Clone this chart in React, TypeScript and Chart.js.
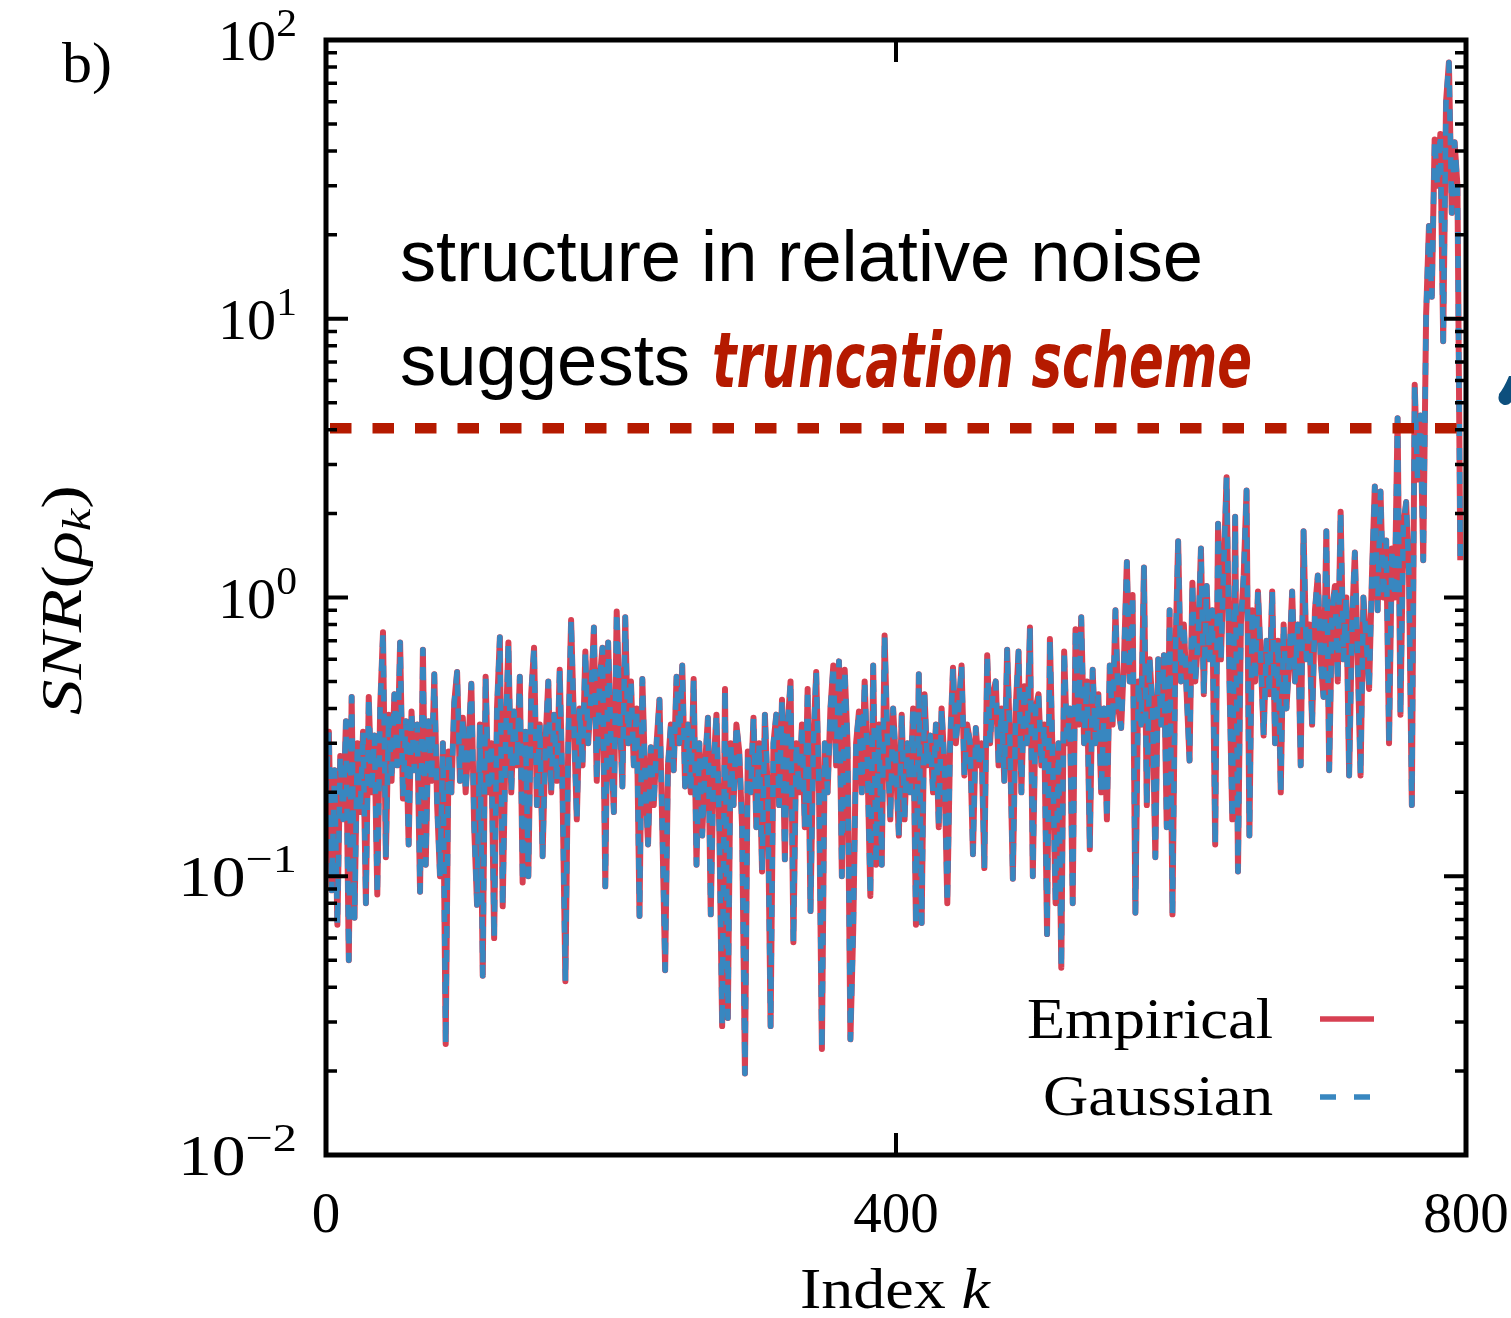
import React, { useEffect, useRef } from "react";
import { Chart, registerables } from "chart.js";

Chart.register(...registerables);

// ---- data ----
const indexStep = 2; // one reading every 2 indices k
const empiricalSnr = [
  0.2, 0.33, 0.089, 0.24, 0.067, 0.27, 0.16, 0.36, 0.05, 0.44,
  0.071, 0.3, 0.17, 0.33, 0.08, 0.44, 0.2, 0.32, 0.086, 0.4,
  0.75, 0.117, 0.38, 0.22, 0.45, 0.25, 0.69, 0.19, 0.36, 0.13,
  0.39, 0.24, 0.35, 0.088, 0.65, 0.11, 0.36, 0.22, 0.53, 0.18,
  0.1, 0.3, 0.025, 0.28, 0.2, 0.42, 0.54, 0.22, 0.37, 0.2,
  0.3, 0.49, 0.15, 0.079, 0.35, 0.044, 0.52, 0.2, 0.3, 0.06,
  0.4, 0.72, 0.078, 0.3, 0.69, 0.2, 0.39, 0.25, 0.52, 0.095,
  0.33, 0.1, 0.45, 0.66, 0.18, 0.35, 0.118, 0.3, 0.5, 0.2,
  0.38, 0.22, 0.55, 0.2, 0.042, 0.3, 0.83, 0.35, 0.16, 0.4,
  0.25, 0.64, 0.3, 0.45, 0.78, 0.22, 0.5, 0.66, 0.092, 0.69,
  0.3, 0.17, 0.89, 0.4, 0.21, 0.85, 0.3, 0.5, 0.25, 0.4,
  0.072, 0.51, 0.22, 0.13, 0.29, 0.18, 0.3, 0.43, 0.15, 0.046,
  0.25, 0.35, 0.24, 0.52, 0.3, 0.57, 0.21, 0.35, 0.2, 0.51,
  0.11, 0.3, 0.14, 0.25, 0.37, 0.073, 0.25, 0.38, 0.15, 0.029,
  0.47, 0.031, 0.3, 0.18, 0.35, 0.28, 0.15, 0.0196, 0.28, 0.2,
  0.37, 0.15, 0.3, 0.104, 0.38, 0.2, 0.029, 0.3, 0.38, 0.18,
  0.43, 0.115, 0.35, 0.5, 0.058, 0.3, 0.2, 0.35, 0.15, 0.47,
  0.075, 0.3, 0.54, 0.2, 0.024, 0.3, 0.2, 0.4, 0.57, 0.25,
  0.59, 0.1, 0.55, 0.3, 0.026, 0.065, 0.3, 0.39, 0.2, 0.5,
  0.25, 0.085, 0.57, 0.11, 0.35, 0.11, 0.73, 0.3, 0.16, 0.4,
  0.25, 0.14, 0.38, 0.16, 0.3, 0.2, 0.4, 0.067, 0.53, 0.068,
  0.45, 0.25, 0.32, 0.2, 0.35, 0.15, 0.4, 0.25, 0.08, 0.3,
  0.56, 0.3, 0.4, 0.57, 0.23, 0.35, 0.3, 0.12, 0.34, 0.25,
  0.3, 0.107, 0.62, 0.3, 0.45, 0.5, 0.25, 0.4, 0.22, 0.65,
  0.3, 0.098, 0.4, 0.64, 0.2, 0.48, 0.3, 0.78, 0.1, 0.4,
  0.45, 0.25, 0.35, 0.062, 0.71, 0.25, 0.08, 0.3, 0.047, 0.64,
  0.3, 0.4, 0.08, 0.77, 0.35, 0.85, 0.3, 0.5, 0.125, 0.55,
  0.3, 0.45, 0.2, 0.4, 0.16, 0.57, 0.35, 0.9, 0.4, 0.34,
  0.6, 1.34, 0.5, 1.02, 0.074, 0.5, 0.35, 1.28, 0.18, 0.6,
  0.4, 0.117, 0.6, 0.35, 0.62, 0.15, 0.9, 0.073, 0.6, 1.59,
  0.5, 0.8, 0.45, 0.26, 1.13, 0.5, 0.7, 1.5, 0.45, 1.1,
  0.6, 0.9, 0.13, 1.84, 0.6, 1.3, 2.7, 0.5, 0.16, 1.95,
  0.104, 0.8, 1.2, 2.42, 0.14, 0.9, 0.5, 1.05, 0.6, 0.32,
  0.7, 0.45, 1.05, 0.3, 0.7, 0.2, 0.8, 0.4, 0.6, 1.05,
  0.5, 0.8, 0.25, 1.73, 0.6, 0.8, 0.35, 0.9, 1.2, 0.6,
  0.44, 1.73, 0.24, 0.9, 1.1, 0.5, 2.03, 0.6, 1.0, 0.23,
  0.8, 1.45, 0.6, 0.23, 1.0, 0.7, 0.47, 1.2, 2.5, 0.9,
  2.4, 1.0, 1.6, 0.3, 1.5, 1.0, 4.4, 0.38, 1.8, 2.2,
  1.2, 0.18, 5.8, 2.65, 4.5, 1.36, 10.3, 21.5, 12, 44,
  30, 46, 8.3, 60, 83, 24, 43, 30, 1.36,
];
// The Gaussian curve lies on top of the empirical one everywhere in the picture.
const gaussianSnr = empiricalSnr.slice();
const thresholdSnr = 4.05;
const thresholdRange = [0, 800];

const xTickValues = [0, 400, 800];
const xTickLabels = ["0", "400", "800"];
const yTickValues = [0.01, 0.1, 1, 10, 100];
const yTickExponents = ["\u22122", "\u22121", "0", "1", "2"];
const seriesNames = ["Empirical", "Gaussian"];

const RED = "#d74052";
const BLUE = "#3887c0";
const DARK_RED = "#b51a00";
const SERIF = "'Liberation Serif', 'DejaVu Serif', serif";
const SANS = "'Liberation Sans', Arial, sans-serif";

type Run = { text: string; font: string; dy?: number };

function drawRuns(
  ctx: CanvasRenderingContext2D,
  runs: Run[],
  x: number,
  y: number,
  align: "left" | "right" | "center",
  targetWidth?: number,
  color = "#000"
) {
  ctx.save();
  const widths = runs.map((r) => {
    ctx.font = r.font;
    return ctx.measureText(r.text).width;
  });
  const natural = widths.reduce((a, b) => a + b, 0);
  const sx = targetWidth ? targetWidth / natural : 1;
  const total = natural * sx;
  const start = align === "left" ? x : align === "right" ? x - total : x - total / 2;
  ctx.translate(start, y);
  ctx.scale(sx, 1);
  ctx.fillStyle = color;
  ctx.textAlign = "left";
  ctx.textBaseline = "alphabetic";
  let cx = 0;
  runs.forEach((r, i) => {
    ctx.font = r.font;
    ctx.fillText(r.text, cx, r.dy || 0);
    cx += widths[i];
  });
  ctx.restore();
}

const decorPlugin = {
  id: "decor",
  afterDraw(chart: any) {
    const ctx: CanvasRenderingContext2D = chart.ctx;
    const { left, right, top, bottom } = chart.chartArea;
    const xs = chart.scales.x;
    const ys = chart.scales.y;
    ctx.save();
    ctx.strokeStyle = "#000";
    ctx.lineCap = "butt";

    // major y ticks (both sides)
    ctx.lineWidth = 4;
    yTickValues.forEach((v) => {
      const py = ys.getPixelForValue(v);
      ctx.beginPath();
      ctx.moveTo(left, py);
      ctx.lineTo(left + 22, py);
      ctx.moveTo(right, py);
      ctx.lineTo(right - 22, py);
      ctx.stroke();
    });
    // minor y ticks
    ctx.lineWidth = 3.5;
    for (let d = -2; d < 2; d++) {
      for (let m = 2; m <= 9; m++) {
        const py = ys.getPixelForValue(m * Math.pow(10, d));
        ctx.beginPath();
        ctx.moveTo(left, py);
        ctx.lineTo(left + 11, py);
        ctx.moveTo(right, py);
        ctx.lineTo(right - 11, py);
        ctx.stroke();
      }
    }
    // x ticks (bottom and top)
    ctx.lineWidth = 4;
    xTickValues.forEach((v) => {
      const px = xs.getPixelForValue(v);
      ctx.beginPath();
      ctx.moveTo(px, bottom);
      ctx.lineTo(px, bottom - 22);
      ctx.moveTo(px, top);
      ctx.lineTo(px, top + 22);
      ctx.stroke();
    });
    // frame
    ctx.lineWidth = 5;
    ctx.strokeRect(left, top, right - left, bottom - top);

    // y tick labels
    yTickValues.forEach((v, i) => {
      const py = ys.getPixelForValue(v);
      const exp = yTickExponents[i];
      const neg = exp.startsWith("\u2212");
      drawRuns(
        ctx,
        [
          { text: "10", font: `56px ${SERIF}` },
          { text: exp, font: `40px ${SERIF}`, dy: -24 },
        ],
        297,
        py + 20,
        "right",
        neg ? 119 : 79
      );
    });
    // x tick labels
    xTickValues.forEach((v, i) => {
      const px = xs.getPixelForValue(v);
      drawRuns(ctx, [{ text: xTickLabels[i], font: `56px ${SERIF}` }], px, 1232, "center", xTickLabels[i].length * 28.5);
    });

    // axis titles
    drawRuns(
      ctx,
      [
        { text: "Index ", font: `56px ${SERIF}` },
        { text: "k", font: `italic 56px ${SERIF}` },
      ],
      895,
      1308,
      "center",
      190
    );
    ctx.save();
    ctx.translate(81, 600);
    ctx.rotate(-Math.PI / 2);
    drawRuns(
      ctx,
      [
        { text: "SNR", font: `italic 56px ${SERIF}` },
        { text: "(", font: `56px ${SERIF}` },
        { text: "\u03c1", font: `italic 56px ${SERIF}` },
        { text: "k", font: `italic 40px ${SERIF}`, dy: 9 },
        { text: ")", font: `56px ${SERIF}` },
      ],
      0,
      0,
      "center",
      230
    );
    ctx.restore();

    // panel letter
    drawRuns(ctx, [{ text: "b)", font: `56px ${SERIF}` }], 62, 82, "left", 50);

    // legend
    drawRuns(ctx, [{ text: seriesNames[0], font: `56px ${SERIF}` }], 1273, 1038, "right", 246);
    drawRuns(ctx, [{ text: seriesNames[1], font: `56px ${SERIF}` }], 1273, 1115, "right", 230);
    ctx.lineWidth = 5.5;
    ctx.strokeStyle = RED;
    ctx.beginPath();
    ctx.moveTo(1320, 1019);
    ctx.lineTo(1374, 1019);
    ctx.stroke();
    ctx.strokeStyle = BLUE;
    ctx.setLineDash([16, 18]);
    ctx.beginPath();
    ctx.moveTo(1320, 1097);
    ctx.lineTo(1372, 1097);
    ctx.stroke();
    ctx.setLineDash([]);

    // annotation
    drawRuns(ctx, [{ text: "structure in relative noise", font: `72px ${SANS}` }], 400, 281, "left", 803);
    drawRuns(ctx, [{ text: "suggests", font: `72px ${SANS}` }], 400, 385, "left", 290);
    drawRuns(
      ctx,
      [{ text: "truncation scheme", font: `bold italic 76px 'DejaVu Sans Condensed', 'DejaVu Sans', sans-serif` }],
      712,
      387,
      "left",
      540,
      DARK_RED
    );

    // cut-off annotation mark at the right edge
    ctx.fillStyle = "#0d4f7d";
    ctx.beginPath();
    ctx.moveTo(1509, 376);
    ctx.quadraticCurveTo(1504, 388, 1499, 394);
    ctx.arc(1505.5, 398, 7, Math.PI * 1.1, Math.PI * 0.1, true);
    ctx.lineTo(1511, 376);
    ctx.closePath();
    ctx.fill();

    ctx.restore();
  },
};

export default function App() {
  const canvasRef = useRef<HTMLCanvasElement | null>(null);

  useEffect(() => {
    document.body.style.margin = "0";
    const canvas = canvasRef.current;
    if (!canvas) return;
    const empiricalPoints = empiricalSnr.map((v, i) => ({ x: i * indexStep, y: v }));
    const gaussianPoints = gaussianSnr.map((v, i) => ({ x: i * indexStep, y: v }));
    const thresholdPoints = thresholdRange.map((x) => ({ x, y: thresholdSnr }));

    const chart = new Chart(canvas, {
      type: "line",
      data: {
        datasets: [
          {
            label: "threshold",
            data: thresholdPoints,
            borderColor: DARK_RED,
            borderWidth: 10.5,
            borderDash: [21.5, 21],
            borderDashOffset: 38.5,
            borderCapStyle: "butt",
            pointRadius: 0,
            order: 0,
          },
          {
            label: seriesNames[1],
            data: gaussianPoints,
            borderColor: BLUE,
            borderWidth: 5.5,
            borderDash: [12, 12],
            borderCapStyle: "butt",
            borderJoinStyle: "round",
            pointRadius: 0,
            tension: 0,
            order: 1,
          },
          {
            label: seriesNames[0],
            data: empiricalPoints,
            borderColor: RED,
            borderWidth: 6,
            borderCapStyle: "butt",
            borderJoinStyle: "round",
            pointRadius: 0,
            tension: 0,
            order: 2,
          },
        ],
      },
      options: {
        animation: false,
        responsive: false,
        devicePixelRatio: 1,
        parsing: false as any,
        normalized: true,
        layout: { padding: { left: 326, right: 45, top: 40, bottom: 163 } },
        scales: {
          x: { type: "linear", min: 0, max: 800, display: false },
          y: { type: "logarithmic", min: 0.01, max: 100, display: false },
        },
        plugins: {
          legend: { display: false },
          tooltip: { enabled: false },
        },
        events: [],
      },
      plugins: [decorPlugin],
    });
    return () => chart.destroy();
  }, []);

  return (
    <div style={{ width: 1511, height: 1318, background: "#fff" }}>
      <canvas ref={canvasRef} width={1511} height={1318} style={{ display: "block" }} />
    </div>
  );
}
